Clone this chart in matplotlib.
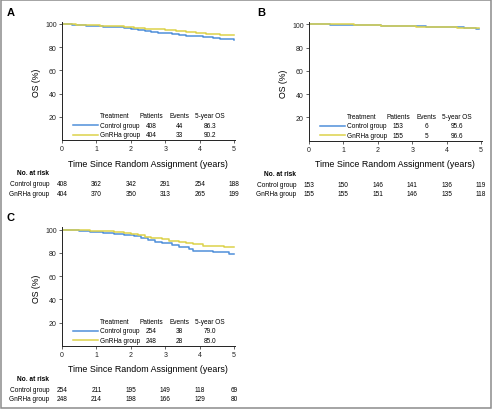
import matplotlib.pyplot as plt
from matplotlib.patches import Rectangle

plt.rcParams['font.family'] = ['Liberation Sans', 'DejaVu Sans']

# ============================================================
# DATA
# ============================================================
years = [0, 1, 2, 3, 4, 5]
groups = ['Control group', 'GnRHa group']

# Panel A
a_ctrl_t = [0, 0.3, 0.5, 0.7, 1.0, 1.2, 1.5, 1.8, 2.0, 2.2, 2.4, 2.6, 2.8, 3.0,
            3.2, 3.4, 3.6, 3.9, 4.1, 4.4, 4.6, 4.8, 5.0]
a_ctrl_s = [100, 99.5, 98.8, 98.5, 98.0, 97.5, 97.0, 96.5, 96.0, 95.0, 94.0, 93.2,
            92.5, 92.0, 91.3, 90.5, 89.8, 89.3, 88.8, 88.2, 87.5, 86.8, 86.3]
a_gnrh_t = [0, 0.4, 0.8, 1.1, 1.5, 1.8, 2.1, 2.4, 2.7, 3.0, 3.3, 3.6, 3.9, 4.2,
            4.6, 5.0]
a_gnrh_s = [100, 99.5, 99.0, 98.6, 98.2, 97.5, 96.8, 96.0, 95.3, 94.8, 93.8, 93.0,
            92.0, 91.3, 90.6, 90.2]
a_patients = [408, 404]
a_events = [44, 33]
a_os5 = ['86.3', '90.2']
a_risk_ctrl = [408, 362, 342, 291, 254, 188]
a_risk_gnrh = [404, 370, 350, 313, 265, 199]

# Panel B
b_ctrl_t = [0, 0.6, 2.1, 3.4, 4.0, 4.5, 4.85, 4.95]
b_ctrl_s = [100, 99.3, 98.7, 98.0, 97.3, 96.6, 95.6, 95.6]
b_gnrh_t = [0, 1.3, 2.1, 3.1, 3.4, 4.3, 4.95]
b_gnrh_s = [100, 99.4, 98.7, 97.9, 97.3, 96.6, 96.6]
b_patients = [153, 155]
b_events = [6, 5]
b_os5 = ['95.6', '96.6']
b_risk_ctrl = [153, 150, 146, 141, 136, 119]
b_risk_gnrh = [155, 155, 151, 146, 135, 118]

# Panel C
c_ctrl_t = [0, 0.5, 0.8, 1.2, 1.5, 1.8, 2.1, 2.3, 2.5, 2.7, 2.9, 3.2, 3.4, 3.7,
            3.8, 4.4, 4.85, 5.0]
c_ctrl_s = [100, 98.4, 97.6, 96.8, 96.0, 95.2, 94.4, 92.8, 91.2, 89.6, 88.0, 86.4,
            84.8, 83.2, 81.6, 80.8, 79.0, 79.0]
c_gnrh_t = [0, 0.4, 0.8, 1.5, 1.8, 2.0, 2.2, 2.4, 2.6, 2.9, 3.1, 3.4, 3.6, 3.8,
            4.1, 4.4, 4.7, 5.0]
c_gnrh_s = [100, 99.2, 98.4, 97.6, 96.8, 96.0, 95.2, 94.0, 92.8, 91.6, 90.4, 89.2,
            88.4, 87.2, 86.0, 85.6, 85.0, 85.0]
c_patients = [254, 248]
c_events = [38, 28]
c_os5 = ['79.0', '85.0']
c_risk_ctrl = [254, 211, 195, 149, 118, 69]
c_risk_gnrh = [248, 214, 198, 166, 129, 80]

# ============================================================
# STYLE
# ============================================================
blue = '#4f8fda'
yellow = '#dcd24a'
fs_small = 4.7

W, H = 493, 410
fig = plt.figure(figsize=(W / 100, H / 100), dpi=100)

fig.patches.append(Rectangle((0.6 / W, 1.5 / H), 490.5 / W, 407.5 / H,
                             transform=fig.transFigure, fill=False,
                             edgecolor='#8c8c8c', linewidth=1.1))


def km_panel(rect, letter, letter_xy, ctrl, gnrh, patients, events, os5,
             risk_ctrl, risk_gnrh):
    ax = fig.add_axes(rect)
    ax.step(ctrl[0], ctrl[1], where='post', color=blue, lw=1.1)
    ax.step(gnrh[0], gnrh[1], where='post', color=yellow, lw=1.1)
    ax.set_xlim(0, 5.02)
    ax.set_ylim(0, 102)
    ax.set_xticks(years)
    ax.set_yticks([20, 40, 60, 80, 100])
    for s in ['top', 'right']:
        ax.spines[s].set_visible(False)
    for s in ['left', 'bottom']:
        ax.spines[s].set_linewidth(0.7)
        ax.spines[s].set_color('#222222')
    ax.tick_params(direction='out', length=2.2, width=0.5, pad=1.5,
                   labelsize=fs_small + 0.3, colors='#222222')

    ax.text(-0.145, 0.49, 'OS (%)', rotation=90, transform=ax.transAxes,
            ha='center', va='center', fontsize=6.3)
    ax.text(2.5, -0.192, 'Time Since Random Assignment (years)',
            transform=ax.get_xaxis_transform(), ha='center', va='center',
            fontsize=6.4)

    # legend table
    col_x = [1.1, 2.6, 3.42, 4.3]
    ax.text(col_x[0], 21, 'Treatment', fontsize=fs_small, va='center')
    for x, h in zip(col_x[1:], ['Patients', 'Events', '5-year OS']):
        ax.text(x, 21, h, fontsize=fs_small, va='center', ha='center')
    for yv, g, c, p, e, o in zip([12.8, 4.6], groups, [blue, yellow],
                                 patients, events, os5):
        ax.plot([0.32, 1.05], [yv, yv], color=c, lw=1.1)
        ax.text(col_x[0], yv, g, fontsize=fs_small, va='center')
        ax.text(col_x[1], yv, str(p), fontsize=fs_small, va='center', ha='center')
        ax.text(col_x[2], yv, str(e), fontsize=fs_small, va='center', ha='center')
        ax.text(col_x[3], yv, o, fontsize=fs_small, va='center', ha='center')

    # numbers at risk
    tr = ax.get_xaxis_transform()
    ax.text(-0.37, -0.276, 'No. at risk', transform=tr, fontsize=fs_small,
            fontweight='bold', ha='right', va='center')
    for yf, g, vals in zip([-0.366, -0.447], groups, [risk_ctrl, risk_gnrh]):
        ax.text(-0.37, yf, g, transform=tr, fontsize=fs_small, ha='right',
                va='center')
        for x, v in zip(years, vals):
            ax.text(x, yf, str(v), transform=tr, fontsize=fs_small,
                    ha='center', va='center')

    fig.text(letter_xy[0] / W, 1 - letter_xy[1] / H, letter, fontsize=8,
             fontweight='bold', ha='left', va='center')
    return ax


aw, ah = 172.7 / W, 118.6 / H
km_panel([62 / W, 1 - 141.25 / H, aw, ah], 'A', (6.5, 12.5),
         (a_ctrl_t, a_ctrl_s), (a_gnrh_t, a_gnrh_s),
         a_patients, a_events, a_os5, a_risk_ctrl, a_risk_gnrh)
km_panel([309 / W, 1 - 141.6 / H, aw, ah], 'B', (257.5, 12.5),
         (b_ctrl_t, b_ctrl_s), (b_gnrh_t, b_gnrh_s),
         b_patients, b_events, b_os5, b_risk_ctrl, b_risk_gnrh)
km_panel([62 / W, 1 - 346.8 / H, aw, ah], 'C', (6.5, 218),
         (c_ctrl_t, c_ctrl_s), (c_gnrh_t, c_gnrh_s),
         c_patients, c_events, c_os5, c_risk_ctrl, c_risk_gnrh)

fig.savefig('out.png', dpi=100)
